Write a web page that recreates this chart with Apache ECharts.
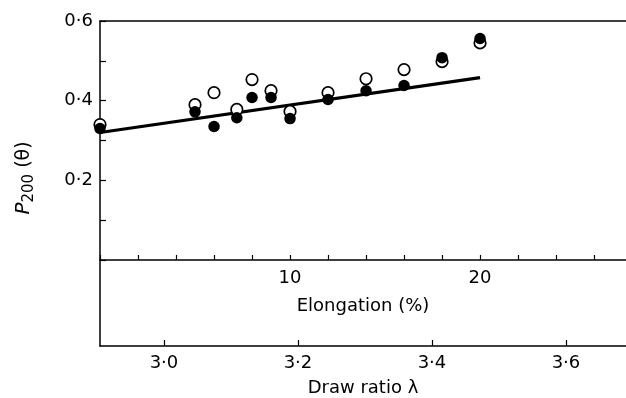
<!DOCTYPE html>
<html>
<head>
<meta charset="utf-8">
<script src="https://cdn.jsdelivr.net/npm/echarts@6/dist/echarts.min.js"></script>
<style>
  html, body { margin: 0; padding: 0; background: #fff; }
  #chart { width: 626px; height: 398px; }
</style>
</head>
<body>
<div id="chart"></div>
<script>
// elongation (%) of each sample
const elongation = [0, 5, 6, 7.2, 8, 9, 10, 12, 14, 16, 18, 20];
// P200(theta), open circles
const openVals = [0.34, 0.39, 0.42, 0.378, 0.453, 0.425, 0.373, 0.42, 0.455, 0.478, 0.498, 0.545];
// P200(theta), filled circles
const filledVals = [0.33, 0.372, 0.335, 0.357, 0.408, 0.408, 0.355, 0.403, 0.425, 0.438, 0.508, 0.556];
// straight fit line
const fitX = [0, 20];
const fitY = [0.32, 0.458];

const drawRatioTicks = [3.0, 3.2, 3.4, 3.6];
const elongLabels = [10, 20];
const yLabels = [0.2, 0.4, 0.6];

const FONT = 'DejaVu Sans';
const fmt = v => v.toFixed(1).replace('.', '·');

const chart = echarts.init(document.getElementById('chart'));

const option = {
  animation: false,
  backgroundColor: '#fff',
  textStyle: { fontFamily: FONT, color: '#000' },
  grid: [
    { left: 100, right: 0, top: 21, height: 239 },
    { left: 100, right: 0, top: 260, height: 86 }
  ],
  xAxis: [
    {
      type: 'value',
      gridIndex: 0,
      min: 0,
      max: 27.68,
      interval: 2,
      name: 'Elongation (%)',
      nameLocation: 'middle',
      nameGap: 37,
      nameTextStyle: { fontFamily: FONT, fontSize: 18, color: '#000' },
      axisLine: { lineStyle: { color: '#000', width: 1.5 } },
      axisTick: { inside: true, length: 5, lineStyle: { color: '#000', width: 1.2 } },
      axisLabel: {
        margin: 9,
        fontFamily: FONT,
        fontSize: 18,
        color: '#000',
        showMaxLabel: false,
        formatter: v => (elongLabels.includes(v) ? String(v) : '')
      },
      splitLine: { show: false }
    },
    {
      // top frame line
      type: 'value',
      gridIndex: 0,
      position: 'top',
      min: 0,
      max: 1,
      axisLine: { lineStyle: { color: '#000', width: 1.5 } },
      axisTick: { show: false },
      axisLabel: { show: false },
      splitLine: { show: false }
    },
    {
      type: 'value',
      gridIndex: 1,
      min: 2.9045,
      max: 3.6896,
      name: 'Draw ratio λ',
      nameLocation: 'middle',
      nameGap: 33,
      nameTextStyle: { fontFamily: FONT, fontSize: 18, color: '#000' },
      axisLine: { lineStyle: { color: '#000', width: 1.5 } },
      axisTick: { inside: true, length: 6, customValues: drawRatioTicks, lineStyle: { color: '#000', width: 1.2 } },
      axisLabel: {
        margin: 8,
        fontFamily: FONT,
        fontSize: 18,
        color: '#000',
        customValues: drawRatioTicks,
        formatter: v => fmt(v)
      },
      splitLine: { show: false }
    }
  ],
  yAxis: [
    {
      type: 'value',
      gridIndex: 0,
      min: 0,
      max: 0.6,
      interval: 0.1,
      axisLine: { show: true, lineStyle: { color: '#000', width: 1.5 } },
      axisTick: { show: true, inside: true, length: 6, lineStyle: { color: '#000', width: 1.2 } },
      axisLabel: {
        margin: 7,
        fontFamily: FONT,
        fontSize: 18,
        color: '#000',
        formatter: v => {
          const r = Math.round(v * 10) / 10;
          return yLabels.includes(r) ? fmt(r) : '';
        }
      },
      splitLine: { show: false }
    },
    {
      type: 'value',
      gridIndex: 1,
      min: 0,
      max: 1,
      axisLine: { show: true, lineStyle: { color: '#000', width: 1.5 } },
      axisTick: { show: false },
      axisLabel: { show: false },
      splitLine: { show: false }
    }
  ],
  graphic: [
    {
      type: 'text',
      x: 24,
      y: 178,
      rotation: Math.PI / 2,
      style: {
        text: '{p|P}{s|200} (θ)',
        fontFamily: FONT,
        fontSize: 19,
        fill: '#000',
        align: 'center',
        verticalAlign: 'middle',
        rich: {
          p: { fontFamily: FONT, fontSize: 20, fontStyle: 'italic', fill: '#000' },
          s: { fontFamily: FONT, fontSize: 15, fill: '#000', padding: [10, 0, 0, 0] }
        }
      }
    }
  ],
  series: [
    {
      type: 'line',
      xAxisIndex: 0,
      yAxisIndex: 0,
      data: fitX.map((x, i) => [x, fitY[i]]),
      showSymbol: false,
      lineStyle: { color: '#000', width: 3.2 },
      z: 1
    },
    {
      type: 'scatter',
      xAxisIndex: 0,
      yAxisIndex: 0,
      data: elongation.map((x, i) => [x, openVals[i]]),
      symbol: 'circle',
      symbolSize: 11.5,
      itemStyle: { color: '#fff', borderColor: '#000', borderWidth: 1.7, opacity: 1 },
      clip: false,
      z: 2
    },
    {
      type: 'scatter',
      xAxisIndex: 0,
      yAxisIndex: 0,
      data: elongation.map((x, i) => [x, filledVals[i]]),
      symbol: 'circle',
      symbolSize: 11.5,
      itemStyle: { color: '#000', opacity: 1 },
      clip: false,
      z: 3
    }
  ]
};

chart.setOption(option);
</script>
</body>
</html>
